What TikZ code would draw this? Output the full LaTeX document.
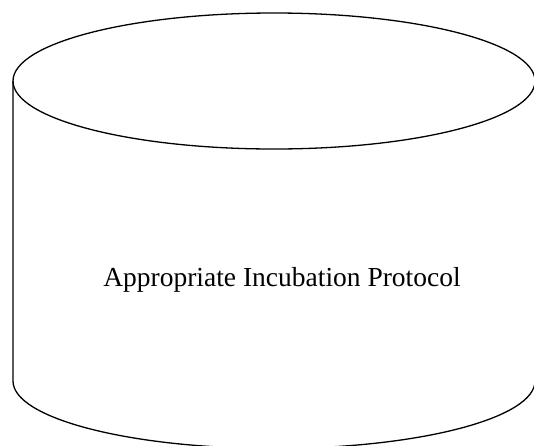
\documentclass[tikz,border=0pt]{standalone}
\usepackage{fontspec}
\setmainfont{Liberation Serif}
\begin{document}
\begin{tikzpicture}[x=1pt,y=-1pt,
  outline/.style={draw=black,line width=1.3pt},
  label/.style={font=\fontsize{27.5}{33}\selectfont,inner sep=0pt}]
\useasboundingbox (0,0) rectangle (534,445);
\begin{scope}
\clip (0,0) rectangle (534,445);
\draw[outline] (274,81) ellipse [x radius=261, y radius=68];
\draw[outline] (13,81) -- (13,381) arc[start angle=180, end angle=0, x radius=261, y radius=67.5] -- (535,81);
\end{scope}
\node[label,anchor=base] (txt) at (282,286) {Appropriate Incubation Protocol};
\end{tikzpicture}
\end{document}
